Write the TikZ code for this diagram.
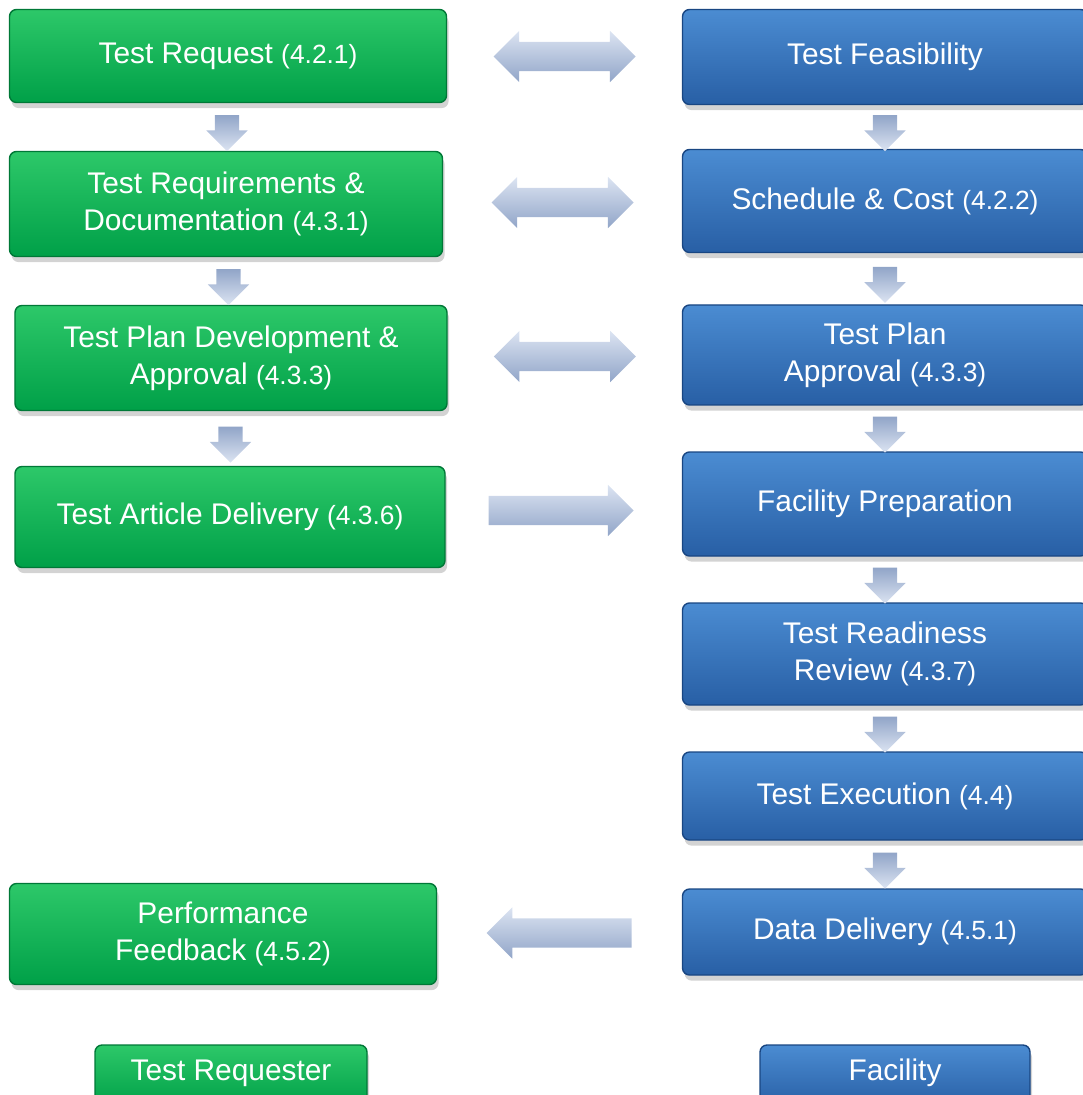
\documentclass[tikz,border=0pt]{standalone}
\usepackage{fontspec}
\setmainfont{Liberation Sans}
\usetikzlibrary{positioning,calc,shapes.arrows,shadows}

\definecolor{grntop}{RGB}{45,200,105}
\definecolor{grnbot}{RGB}{0,160,72}
\definecolor{grnedge}{RGB}{0,120,55}
\definecolor{blutop}{RGB}{75,140,210}
\definecolor{blubot}{RGB}{40,95,165}
\definecolor{bluedge}{RGB}{25,70,130}
\definecolor{arrlight}{RGB}{220,228,242}
\definecolor{arrdark}{RGB}{145,165,200}

\newcommand{\secnum}[1]{{\fontsize{7.5}{9}\selectfont(#1)}}

\tikzset{
  flowbox/.style={rectangle, rounded corners=2pt, text=white, align=center,
    font=\fontsize{8.5}{10.5}\selectfont,
    drop shadow={opacity=0.35, shadow xshift=0.6pt, shadow yshift=-1.6pt}},
  reqbox/.style={flowbox, draw=grnedge, top color=grntop, bottom color=grnbot},
  facbox/.style={flowbox, draw=bluedge, top color=blutop, bottom color=blubot},
  harrow/.style={single arrow, draw=none, top color=arrlight, bottom color=arrdark,
    inner xsep=0pt, inner ysep=0.14cm, single arrow head extend=0.11cm,
    minimum height=1.45cm},
  biarrow/.style={double arrow, draw=none, top color=arrlight, bottom color=arrdark,
    inner xsep=0pt, inner ysep=0.14cm, double arrow head extend=0.11cm,
    minimum height=1.42cm},
  downarrow/.style={single arrow, draw=none, rotate=-90, top color=arrdark, bottom color=arrlight,
    inner xsep=0pt, inner ysep=0.115cm, single arrow head extend=0.085cm,
    minimum height=0.36cm}
}

\begin{document}
\begin{tikzpicture}
  \useasboundingbox (0,0) rectangle (10.82,-10.95);

  % Test requester side
  \node[reqbox, minimum width=4.37cm, minimum height=0.93cm] (req) at (2.28,-0.56) {Test Request \secnum{4.2.1}};
  \node[reqbox, minimum width=4.33cm, minimum height=1.05cm] (reqdoc) at (2.26,-2.04) {Test Requirements \&\\Documentation \secnum{4.3.1}};
  \node[reqbox, minimum width=4.32cm, minimum height=1.05cm] (plandev) at (2.31,-3.58) {Test Plan Development \&\\Approval \secnum{4.3.3}};
  \node[reqbox, minimum width=4.30cm, minimum height=1.01cm] (article) at (2.30,-5.17) {Test Article Delivery \secnum{4.3.6}};
  \node[reqbox, minimum width=4.27cm, minimum height=1.01cm] (feedback) at (2.23,-9.34) {Performance\\Feedback \secnum{4.5.2}};
  \node[reqbox, minimum width=2.72cm, minimum height=0.62cm, text depth=0.12cm] (requester) at (2.31,-10.76) {Test Requester};

  % Facility side
  \node[facbox, minimum width=4.05cm, minimum height=0.95cm] (feas) at (8.85,-0.57) {Test Feasibility};
  \node[facbox, minimum width=4.05cm, minimum height=1.03cm] (sched) at (8.85,-2.01) {Schedule \& Cost \secnum{4.2.2}};
  \node[facbox, minimum width=4.05cm, minimum height=1.00cm] (planappr) at (8.85,-3.55) {Test Plan\\Approval \secnum{4.3.3}};
  \node[facbox, minimum width=4.05cm, minimum height=1.04cm] (prep) at (8.85,-5.04) {Facility Preparation};
  \node[facbox, minimum width=4.05cm, minimum height=1.02cm] (trr) at (8.85,-6.54) {Test Readiness\\Review \secnum{4.3.7}};
  \node[facbox, minimum width=4.05cm, minimum height=0.88cm] (exec) at (8.85,-7.96) {Test Execution \secnum{4.4}};
  \node[facbox, minimum width=4.05cm, minimum height=0.86cm] (data) at (8.85,-9.32) {Data Delivery \secnum{4.5.1}};
  \node[facbox, minimum width=2.70cm, minimum height=0.62cm, text depth=0.12cm] (facility) at (8.95,-10.76) {Facility};

  % exchanges between the two sides
  \node[biarrow] (x1) at ($(req.east)!0.5!(feas.west)$) {};
  \node[biarrow] (x2) at ($(reqdoc.east)!0.5!(sched.west)$) {};
  \node[biarrow] (x3) at ($(plandev.east)!0.5!(planappr.west)$) {};
  \node[harrow, xshift=-0.1cm] (x4) at ($(article.east)!0.5!(prep.west)$) {};
  \node[harrow, shape border rotate=180, xshift=0.07cm] (x5) at ($(feedback.east)!0.5!(data.west)$) {};

  % steps down each column
  \foreach \a/\b in {req/reqdoc, reqdoc/plandev, plandev/article,
                     feas/sched, sched/planappr, planappr/prep, prep/trr, trr/exec, exec/data}
    \node[downarrow] at ($(\a.south)!0.5!(\b.north)$) {};
\end{tikzpicture}
\end{document}
